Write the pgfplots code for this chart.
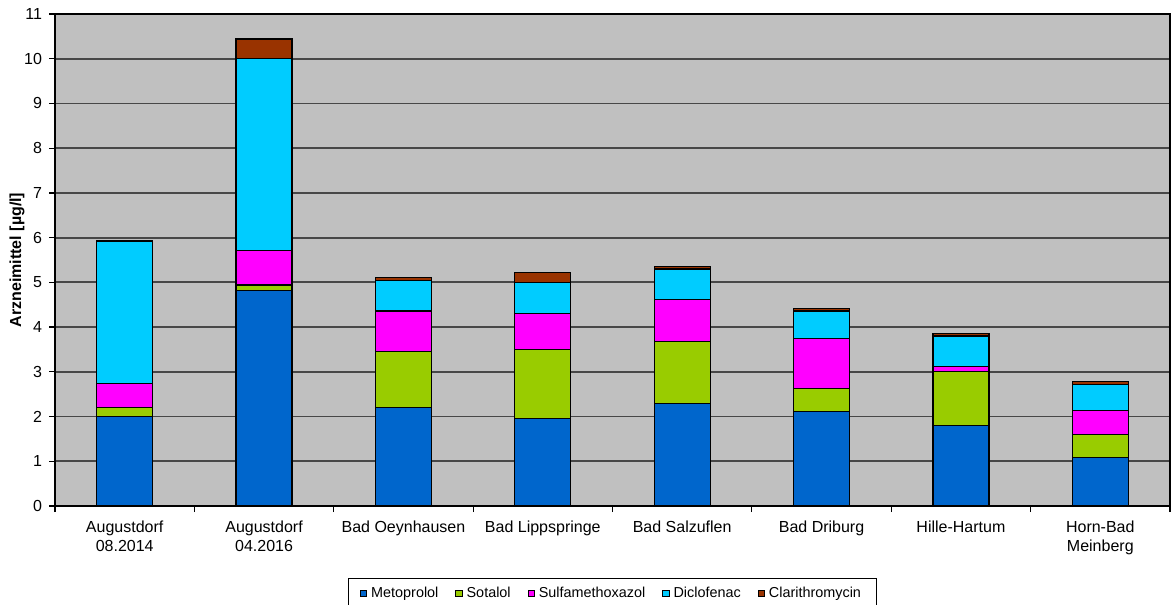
\documentclass[border=0pt]{standalone}
\usepackage{fontspec}
\setmainfont{Liberation Sans}
\usepackage{pgfplots}
\pgfplotsset{compat=1.18}
\usepackage{pgfplotstable}

\definecolor{metoprolol}{HTML}{0066CC}
\definecolor{sotalol}{HTML}{99CC00}
\definecolor{sulfa}{HTML}{FF00FF}
\definecolor{diclofenac}{HTML}{00CCFF}
\definecolor{clari}{HTML}{993300}
\definecolor{plotbg}{HTML}{C0C0C0}

% Arzneimittel-Konzentrationen je Messstelle [µg/l]
\pgfplotstableread{
x met  sot  sul  dic  cla
0 2.00 0.20 0.53 3.18 0.03
1 4.81 0.13 0.78 4.29 0.43
2 2.20 1.25 0.91 0.69 0.06
3 1.95 1.55 0.81 0.69 0.22
4 2.30 1.37 0.94 0.69 0.06
5 2.12 0.50 1.13 0.61 0.05
6 1.80 1.20 0.11 0.69 0.06
7 1.09 0.50 0.55 0.58 0.06
}\data

\pgfplotsset{
  sq/.style={
    fill=#1, draw=black, line width=0.6pt,
    legend image code/.code={%
      \draw[fill=#1, draw=black, line width=0.4pt] (0pt,-1.3pt) rectangle (3.2pt,1.9pt);}
  }
}

\begin{document}
\begin{tikzpicture}
\useasboundingbox (0,0) rectangle (586.5pt,302.5pt);
\begin{axis}[
  at={(27.5pt,49.5pt)}, anchor=south west,
  scale only axis, width=557.5pt, height=246pt,
  ybar stacked, bar width=28pt,
  xmin=-0.5, xmax=7.5, ymin=0, ymax=11,
  ytick={0,1,...,11},
  xtick={0,...,7},
  xticklabels={{Augustdorf\\08.2014},{Augustdorf\\04.2016},{Bad Oeynhausen},{Bad Lippspringe},{Bad Salzuflen},{Bad Driburg},{Hille-Hartum},{Horn-Bad\\Meinberg}},
  minor xtick={-0.5,0.5,...,7.5},
  major x tick style={draw=none},
  tick align=outside, tick pos=left,
  major tick length=3pt, minor tick length=3pt,
  tick style={black, line width=0.6pt},
  ymajorgrids, grid style={draw=black!72, line width=0.9pt},
  axis background/.style={fill=plotbg},
  axis line style={black, line width=0.8pt},
  /pgf/number format/assume math mode=true,
  ticklabel style={font=\fontsize{8}{9.5}\selectfont},
  xticklabel style={align=center, yshift=-0.8pt},
  ylabel={\textbf{Arzneimittel [µg/l]}},
  ylabel style={at={(axis description cs:-0.034,0.5)}, anchor=center, rotate=0, font=\fontsize{8}{9.5}\selectfont},
  legend style={at={(0.5,0)}, anchor=north, yshift=-36pt, draw=black, line width=0.5pt, fill=white,
    font=\fontsize{7.2}{9}\selectfont,
    /tikz/every even column/.append style={column sep=6.5pt},
    inner xsep=6pt, inner ysep=2.5pt},
  legend columns=-1,
]
\addplot[sq=metoprolol] table[x=x,y=met]{\data};
\addplot[sq=sotalol]    table[x=x,y=sot]{\data};
\addplot[sq=sulfa]      table[x=x,y=sul]{\data};
\addplot[sq=diclofenac] table[x=x,y=dic]{\data};
\addplot[sq=clari]      table[x=x,y=cla]{\data};
\legend{Metoprolol,Sotalol,Sulfamethoxazol,Diclofenac,Clarithromycin}
\end{axis}
\end{tikzpicture}
\end{document}
